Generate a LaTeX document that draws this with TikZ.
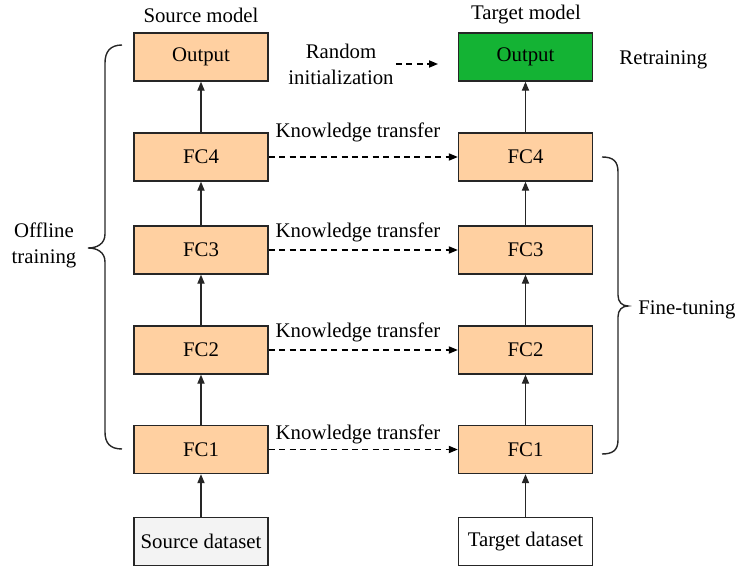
\documentclass[tikz,border=0pt]{standalone}
\usepackage{fontspec}
\setmainfont{Liberation Serif}
\usetikzlibrary{arrows.meta}
\definecolor{peach}{HTML}{FFD0A1}
\definecolor{outgreen}{HTML}{14B334}
\definecolor{lightgray}{HTML}{F3F3F3}
\begin{document}
\begin{tikzpicture}[x=0.5pt,y=-0.5pt,
  every node/.style={font=\fontsize{10.4}{13}\selectfont},
  layerbox/.style={draw=black!85,line width=0.7pt,inner sep=0pt,minimum width=67pt,minimum height=24pt},
  fcbox/.style={layerbox,fill=peach},
  upflow/.style={-{Triangle[length=4.5pt,width=3.6pt]},line width=0.6pt,draw=black!85},
  transfer/.style={-{Triangle[length=4.5pt,width=3.6pt]},line width=0.6pt,dash pattern=on 3pt off 2.2pt},
  bracepath/.style={line width=0.7pt,draw=black!85},
  plain/.style={inner sep=1pt}
]
\useasboundingbox (0,0) rectangle (741,567);
% source column
\node[fcbox] (so) at (201,57) {Output};
\node[fcbox] (s4) at (201,157) {FC4};
\node[fcbox] (s3) at (201,250) {FC3};
\node[fcbox] (s2) at (201,350) {FC2};
\node[fcbox] (s1) at (201,449.5) {FC1};
\node[layerbox,fill=lightgray] (sd) at (201,541.5) {Source dataset};
% target column
\node[layerbox,fill=outgreen] (to) at (525.5,57) {Output};
\node[fcbox] (t4) at (525.5,157) {FC4};
\node[fcbox] (t3) at (525.5,250) {FC3};
\node[fcbox] (t2) at (525.5,350) {FC2};
\node[fcbox] (t1) at (525.5,449.5) {FC1};
\node[layerbox,fill=white] (td) at (525.5,541.5) {Target dataset};
% titles
\node[plain] (stitle) at (201,15) {Source model};
\node[plain] (ttitle) at (526,15) {Target model};
% vertical arrows
\draw[upflow] (sd) -- (s1);
\draw[upflow] (s1) -- (s2);
\draw[upflow] (s2) -- (s3);
\draw[upflow] (s3) -- (s4);
\draw[upflow] (s4) -- (so);
\draw[upflow] (td) -- (t1);
\draw[upflow] (t1) -- (t2);
\draw[upflow] (t2) -- (t3);
\draw[upflow] (t3) -- (t4);
\draw[upflow] (t4) -- (to);
% transfers
\draw[transfer] (s4) -- (t4);
\draw[transfer] (s3) -- (t3);
\draw[transfer] (s2) -- (t2);
\draw[transfer] (s1) -- (t1);
\node[plain] (k4) at (358,132) {Knowledge transfer};
\node[plain] (k3) at (358,232) {Knowledge transfer};
\node[plain] (k2) at (358,332) {Knowledge transfer};
\node[plain] (k1) at (358,434) {Knowledge transfer};
% random init
\node[plain,align=center,inner sep=0pt] (rand) at (341,64) {Random\\initialization};
\coordinate (randend) at (438,64);
\draw[transfer] (rand.east) ++(2,0) -- (randend);
\node[plain,anchor=west] (retr) at (617,60) {Retraining};
% braces
\draw[bracepath] (122,45) .. controls (110,45) and (105,52) .. (105,63) -- (105,234)
  .. controls (105,244) and (97,248) .. (88,248)
  .. controls (97,248) and (105,252) .. (105,262) -- (105,432)
  .. controls (105,443) and (110,449) .. (122,449);
\node[plain,align=center] (off) at (44,245) {Offline\\training};
\draw[bracepath] (602,157) .. controls (613,157) and (618,161) .. (618,172) -- (618,295)
  .. controls (618,302) and (622,306) .. (628,306)
  .. controls (622,306) and (618,310) .. (618,317) -- (618,440)
  .. controls (618,450) and (613,454) .. (602,454);
\node[plain,anchor=west] (fine) at (636,310) {Fine-tuning};
\end{tikzpicture}
\end{document}
